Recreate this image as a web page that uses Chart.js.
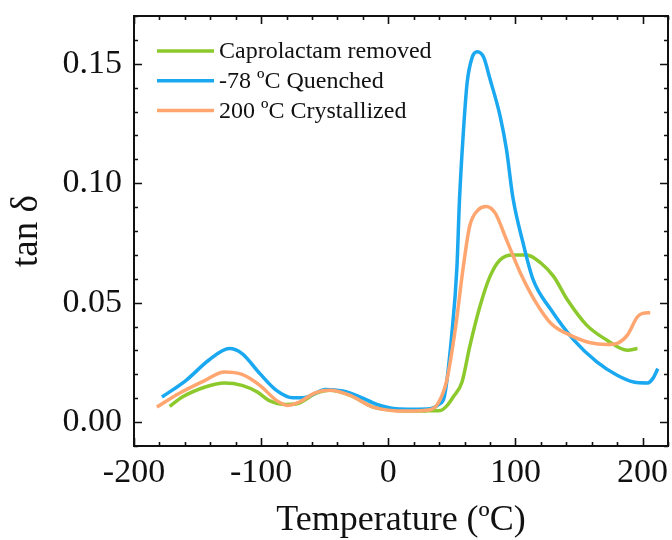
<!DOCTYPE html>
<html>
<head>
<meta charset="utf-8">
<script src="https://cdn.jsdelivr.net/npm/chart.js@4"></script>
<style>
  html, body { margin: 0; padding: 0; background: #fff; }
  #wrap { width: 672px; height: 540px; }
</style>
</head>
<body>
<div id="wrap"><canvas id="chart-tan"></canvas></div>
<script>
// tick labels
const xTicks = [-200, -100, 0, 100, 200];
const yTicks = [0, 0.05, 0.10, 0.15];

// Caprolactam removed
const removedT = [-172, -162, -144, -129, -115, -103, -94, -80, -70, -57, -46, -30, -12, 5, 17, 30, 41, 46, 51, 58, 64, 72, 80, 88, 98, 109, 120, 130, 141, 156, 172, 188, 196];
const removedTan = [0.0066, 0.0105, 0.0147, 0.0164, 0.0154, 0.0126, 0.0091, 0.0074, 0.0080, 0.0120, 0.0133, 0.0112, 0.0063, 0.0050, 0.0046, 0.0047, 0.0049, 0.0068, 0.0105, 0.0168, 0.0315, 0.0483, 0.0610, 0.0680, 0.0700, 0.0700, 0.0666, 0.0610, 0.0511, 0.0406, 0.0343, 0.0301, 0.0308];

// -78 C quenched
const quenchedT = [-178, -159, -141, -125, -115, -101, -88, -75, -67, -49, -36, -22, -9, 6, 20, 33, 40, 44, 50, 54, 56, 59, 62, 66, 70, 75, 80, 88, 93, 98, 106, 114, 128, 146, 164, 180, 193, 204, 208, 212];
const quenchedTan = [0.0105, 0.0175, 0.0260, 0.0308, 0.0287, 0.0203, 0.0133, 0.0102, 0.0102, 0.0137, 0.0130, 0.0105, 0.0074, 0.0056, 0.0054, 0.0056, 0.0075, 0.0105, 0.0370, 0.0650, 0.0930, 0.1210, 0.1420, 0.1527, 0.1550, 0.1527, 0.1436, 0.1280, 0.1140, 0.0940, 0.0750, 0.0595, 0.0470, 0.0343, 0.0252, 0.0196, 0.0168, 0.0164, 0.0182, 0.0224];

// 200 C crystallized
const crystT = [-182, -165, -144, -129, -115, -101, -88, -79, -70, -57, -46, -30, -12, 14, 33, 39, 46, 53, 59, 64, 71, 77, 84, 93, 104, 115, 128, 143, 159, 172, 181, 188, 196, 200, 206];
const crystTan = [0.0063, 0.0119, 0.0175, 0.0210, 0.0200, 0.0154, 0.0091, 0.0070, 0.0084, 0.0123, 0.0133, 0.0112, 0.0063, 0.0046, 0.0052, 0.0077, 0.0175, 0.0400, 0.0650, 0.0820, 0.0890, 0.0903, 0.0876, 0.0763, 0.0623, 0.0511, 0.0413, 0.0364, 0.0332, 0.0325, 0.0332, 0.0364, 0.0441, 0.0455, 0.0458];

const seriesNames = ['Caprolactam removed', '-78 \u00baC Quenched', '200 \u00baC Crystallized'];
const seriesColors = ['#8cc92c', '#1aa8f0', '#ffa670'];

const toPoints = (xs, ys) => xs.map((x, i) => ({ x: x, y: ys[i] }));

const SERIF = "'Liberation Serif', 'Times New Roman', serif";

// box with inward ticks on all four sides
const frameTicks = {
    id: 'frameTicks',
    afterDraw(chart) {
        const { ctx, chartArea: a, scales: { x, y } } = chart;
        ctx.save();
        ctx.strokeStyle = '#111';
        ctx.lineWidth = 2;
        ctx.strokeRect(a.left, a.top, a.right - a.left, a.bottom - a.top);
        ctx.lineWidth = 1.6;
        ctx.beginPath();
        for (let v = -200; v <= 220; v += 20) {
            const px = Math.round(x.getPixelForValue(v)) + 0.5;
            const len = (v % 100 === 0) ? 8 : 4;
            ctx.moveTo(px, a.bottom); ctx.lineTo(px, a.bottom - len);
            ctx.moveTo(px, a.top); ctx.lineTo(px, a.top + len);
        }
        for (let k = -1; k <= 17; k++) {
            const py = Math.round(y.getPixelForValue(k / 100)) + 0.5;
            const len = (k % 5 === 0) ? 8 : 4;
            ctx.moveTo(a.left, py); ctx.lineTo(a.left + len, py);
            ctx.moveTo(a.right, py); ctx.lineTo(a.right - len, py);
        }
        ctx.stroke();
        ctx.restore();
    }
};

// legend inside the plot, top left
const innerLegend = {
    id: 'innerLegend',
    afterDraw(chart) {
        const { ctx } = chart;
        ctx.save();
        ctx.font = '24px ' + SERIF;
        ctx.textBaseline = 'middle';
        ctx.fillStyle = '#111';
        chart.data.datasets.forEach((ds, i) => {
            const ly = 51 + i * 29.7;
            ctx.strokeStyle = ds.borderColor;
            ctx.lineWidth = 3.5;
            ctx.beginPath();
            ctx.moveTo(157, ly); ctx.lineTo(214, ly);
            ctx.stroke();
            ctx.fillText(ds.label, 219, ly + 1);
        });
        ctx.restore();
    }
};

const tanCot = document.getElementById('chart-tan');

let tanChart = new Chart(tanCot, {
    type: 'line',
    data: {
        datasets: [{
            label: seriesNames[0],
            data: toPoints(removedT, removedTan),
            borderColor: seriesColors[0],
            order: 2
        }, {
            label: seriesNames[1],
            data: toPoints(quenchedT, quenchedTan),
            borderColor: seriesColors[1],
            order: 1
        }, {
            label: seriesNames[2],
            data: toPoints(crystT, crystTan),
            borderColor: seriesColors[2],
            order: 0
        }]
    },
    options: {
        responsive: true,
        maintainAspectRatio: false,
        animation: false,
        borderWidth: 3.5,
        pointRadius: 0,
        cubicInterpolationMode: 'monotone',
        layout: {
            padding: { top: 16, right: 4, left: 0, bottom: 0 }
        },
        scales: {
            x: {
                type: 'linear',
                min: -200,
                max: 220,
                afterBuildTicks: (s) => { s.ticks = xTicks.map(v => ({ value: v })); },
                afterFit: (s) => { s.height = 94; s.paddingLeft = 0; s.paddingRight = 0; },
                grid: { display: false, drawTicks: false },
                border: { display: false },
                ticks: {
                    padding: 7,
                    color: '#111',
                    font: { family: SERIF, size: 34 }
                },
                title: {
                    display: true,
                    text: 'Temperature (\u00baC)',
                    color: '#111',
                    font: { family: SERIF, size: 36, lineHeight: 1 },
                    padding: { top: 0, bottom: 1 }
                }
            },
            y: {
                min: -0.01,
                max: 0.17,
                afterBuildTicks: (s) => { s.ticks = yTicks.map(v => ({ value: v })); },
                afterFit: (s) => { s.width = 134; s.paddingTop = 0; s.paddingBottom = 0; },
                grid: { display: false, drawTicks: false },
                border: { display: false },
                ticks: {
                    padding: 12,
                    color: '#111',
                    font: { family: SERIF, size: 34 },
                    callback: (v) => v.toFixed(2)
                },
                title: {
                    display: true,
                    text: 'tan \u03b4',
                    color: '#111',
                    font: { family: SERIF, size: 37 },
                    padding: { top: 5, bottom: 0 }
                }
            }
        },
        plugins: {
            legend: { display: false },
            tooltip: { enabled: false }
        }
    },
    plugins: [frameTicks, innerLegend]
});
</script>
</body>
</html>
